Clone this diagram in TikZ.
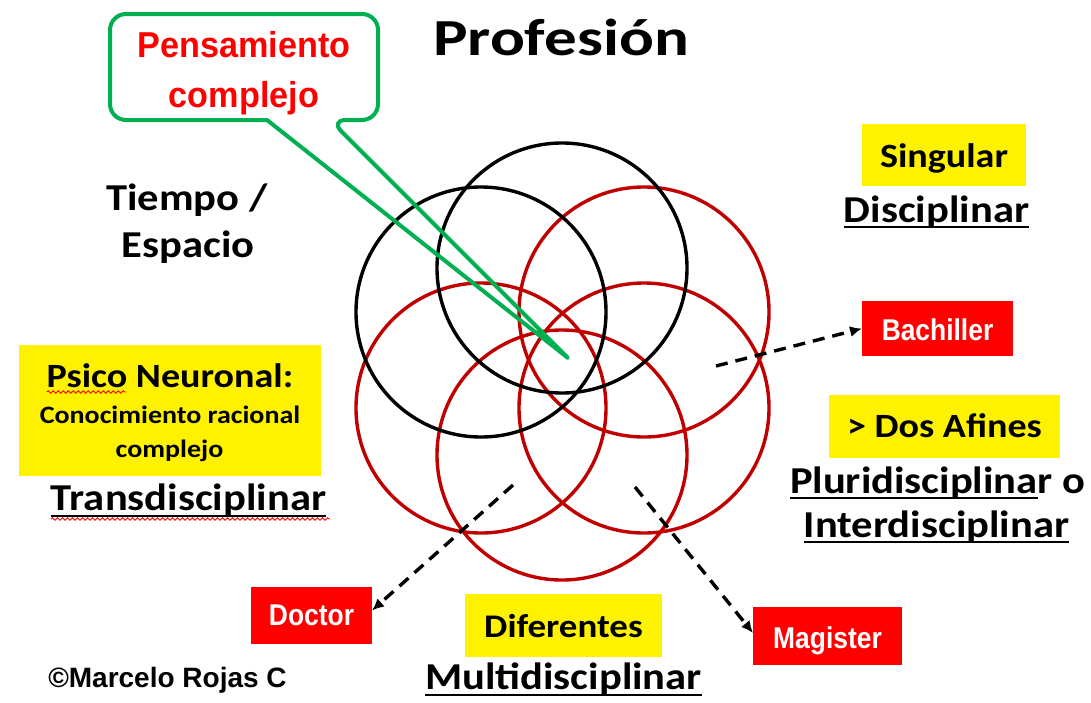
\documentclass[tikz,border=0pt]{standalone}
\usepackage{fontspec}
\usetikzlibrary{arrows.meta,decorations.pathmorphing}
\newfontfamily\calfont{Carlito}[FakeStretch=1.12]
\newfontfamily\titlefont{Carlito}[FakeStretch=1.25]
\newfontfamily\arialfont{Liberation Sans}
\newfontfamily\pensfont{Liberation Sans}[FakeStretch=0.95]
\newfontfamily\narrowfont{Liberation Sans}[FakeStretch=0.88]
\definecolor{ygreen}{RGB}{0,176,80}
\definecolor{dred}{RGB}{192,0,0}
\newcommand{\fsz}[1]{\fontsize{#1}{#1}\selectfont}
\begin{document}
\begin{tikzpicture}[x=1pt,y=-1pt,
  every node/.style={inner sep=0pt, outer sep=0pt},
  lbl/.style={anchor=base},
  ybox/.style={fill=yellow, text depth=6pt},
  rbox/.style={fill=red, text=white, font=\narrowfont\bfseries\fsz{30}, text depth=6pt},
  ring/.style={circle, minimum size=250pt, line width=3.4pt},
  blackring/.style={ring, draw=black},
  redring/.style={ring, draw=dred},
  ul/.style={line width=2pt},
  squig/.style={draw=red, line width=0.9pt, decorate, decoration={snake, amplitude=1.2pt, segment length=5pt}},
  darrow/.style={line width=3.4pt, dash pattern=on 12pt off 8pt, -{Latex[length=12pt,width=11pt]}},
  callout/.style={draw=ygreen, line width=4pt, line join=round},
]
\useasboundingbox (0,0) rectangle (1091,702);

% circles
\node[redring] (r2) at (481,408) {};
\node[redring] (r3) at (644,408) {};
\node[redring] (r4) at (562,455) {};
\node[redring] (r1) at (644,312) {};
\node[blackring] (b1) at (481,312) {};
\node[blackring] (b2) at (562,268) {};

% title
\node[lbl, font=\titlefont\bfseries\fsz{52}] (title) at (561,55) {Profesión};

% callout
\node[lbl, font=\pensfont\bfseries\fsz{36}, text=red] (pens1) at (244,57) {Pensamiento};
\node[lbl, font=\pensfont\bfseries\fsz{36}, text=red] (pens2) at (244,107) {complejo};
\coordinate (tip) at (568,358);
\draw[callout, rounded corners=16pt] (267,120) -- (110,120) -- (110,14) -- (378,14) -- (378,120) -- (330,120) [sharp corners] -- (tip) -- cycle;

% left labels
\node[lbl, font=\calfont\bfseries\fsz{38}] (tiempo) at (187,210) {Tiempo /};
\node[lbl, font=\calfont\bfseries\fsz{38}] (espacio) at (188,257) {Espacio};

\node[fill=yellow, minimum width=302pt, minimum height=131pt] (psicobox) at (169.5,410.5) {};
\node[lbl, font=\calfont\bfseries\fsz{34}] (psico) at (170,387) {Psico Neuronal:};
\node[lbl, font=\calfont\bfseries\fsz{25}] (conoc) at (170,423) {Conocimiento racional};
\node[lbl, font=\calfont\bfseries\fsz{25}] (compl) at (169.5,457) {complejo};
\draw[squig] ([yshift=-5pt]psico.base west) -- ++(79,0);

\node[lbl, font=\calfont\bfseries\fsz{38}] (trans) at (188.5,510) {Transdisciplinar};
\draw[ul] ([yshift=-6pt]trans.base west) -- ([yshift=-6pt]trans.base east);
\draw[squig] ([yshift=-9pt]trans.base west) -- ([yshift=-9pt,xshift=4pt]trans.base east);

\node[rbox, minimum width=121pt, minimum height=57pt, text height=25pt] (doc) at (311.5,615.5) {Doctor};
\node[lbl, font=\arialfont\bfseries\fsz{28}] (copy) at (167.5,687) {©Marcelo Rojas C};

% bottom
\node[ybox, minimum width=197pt, minimum height=63pt, text height=29pt, font=\calfont\bfseries\fsz{33}] (dif) at (563.5,625.5) {Diferentes};
\node[lbl, font=\calfont\bfseries\fsz{38}] (multi) at (563.5,689) {Multidisciplinar};
\draw[ul] ([yshift=-6pt]multi.base west) -- ([yshift=-6pt]multi.base east);

% right
\node[ybox, minimum width=164pt, minimum height=62pt, text height=30pt, font=\calfont\bfseries\fsz{34}] (sing) at (944,155) {Singular};
\node[lbl, font=\calfont\bfseries\fsz{38}] (disc) at (936.5,222) {Disciplinar};
\draw[ul] ([yshift=-5pt]disc.base west) -- ([yshift=-5pt]disc.base east);

\node[rbox, minimum width=151pt, minimum height=55pt, text height=29pt] (bach) at (937.5,328.5) {Bachiller};

\node[ybox, minimum width=231pt, minimum height=63pt, text height=27pt, font=\calfont\bfseries\fsz{34}] (dos) at (944.5,426.5) {> Dos Afines};

\node[lbl, anchor=base west, font=\calfont\bfseries\fsz{38}] (plua) at (790,493) {Pluridisciplina};
\node[lbl, anchor=base west, font=\calfont\bfseries\fsz{38}] (plub) at (plua.base east) {r o};
\draw[ul] ([yshift=-5pt]plua.base west) -- ([yshift=-5pt]plua.base east);

\node[lbl, font=\calfont\bfseries\fsz{38}] (inter) at (936.5,537) {Interdisciplinar};
\draw[ul] ([yshift=-5pt]inter.base west) -- ([yshift=-5pt]inter.base east);

\node[rbox, minimum width=149pt, minimum height=58pt, text height=30pt] (mag) at (827.5,636) {Magister};

% arrows
\coordinate (sb) at (716,366);
\coordinate (sd) at (513,485);
\coordinate (sm) at (635,487);
\draw[darrow] (sb) -- (bach.west);
\draw[darrow] (sd) -- ([yshift=5pt]doc.east);
\draw[darrow] (sm) -- ([yshift=3pt]mag.west);
\end{tikzpicture}
\end{document}
